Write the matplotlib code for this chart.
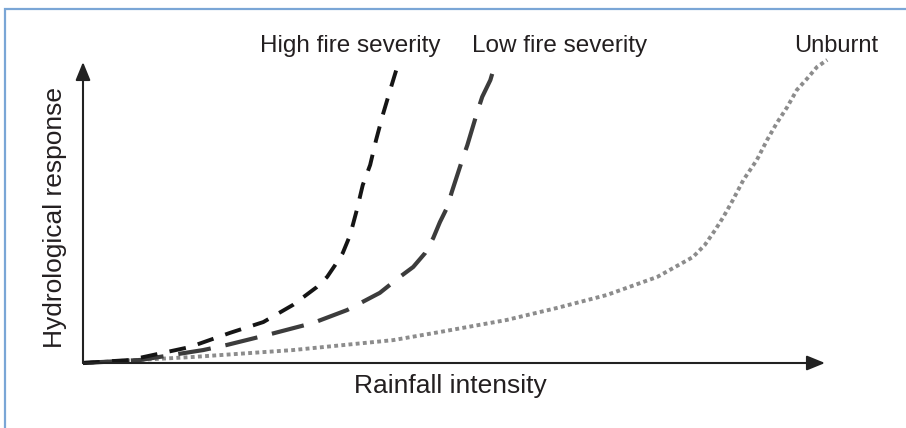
import numpy as np
import matplotlib.pyplot as plt
from matplotlib.patches import Rectangle

plt.rc('font', family=['Liberation Sans', 'DejaVu Sans'])

# curves (rainfall intensity, hydrological response)
high_x = [0, 0.63, 1.44, 1.98, 2.43, 2.83, 3.15, 3.29, 3.40, 3.50, 3.60, 3.69, 3.77, 3.87, 3.95, 4.04, 4.14, 4.23]
high_y = [0, 0.10, 0.53, 1.00, 1.36, 1.93, 2.52, 2.86, 3.26, 3.65, 4.25, 5.08, 5.91, 6.58, 7.41, 8.24, 9.07, 9.80]
low_x = [0, 0.77, 1.62, 1.94, 2.48, 3.10, 3.56, 4.00, 4.27, 4.45, 4.61, 4.72, 4.81, 4.91, 4.97,
         5.11, 5.18, 5.31, 5.38, 5.49, 5.55]
low_y = [0, 0.10, 0.43, 0.60, 0.93, 1.33, 1.76, 2.33, 2.86, 3.19, 3.65, 4.15, 4.68, 5.18, 5.68,
         6.74, 7.24, 8.31, 8.84, 9.40, 9.90]
unb_x = [0, 1.48, 2.83, 4.18, 4.81, 5.71, 6.39, 7.06, 7.74, 8.22, 8.38, 8.52, 8.63, 8.76, 8.90,
         9.08, 9.22, 9.35, 9.49, 9.62, 9.76, 9.89, 10.03]
unb_y = [0, 0.20, 0.43, 0.76, 1.03, 1.43, 1.83, 2.26, 2.86, 3.52, 3.92, 4.42, 4.85, 5.42, 6.08,
         6.74, 7.41, 7.97, 8.50, 9.07, 9.45, 9.83, 10.07]

labels = ['High fire severity', 'Low fire severity', 'Unburnt']

W, H = 906, 428
fig = plt.figure(figsize=(W/100, H/100), dpi=100)

# light blue frame round the figure
fig.patches.append(Rectangle((5/W, -0.05), 1.0, (H-9)/H + 0.05, transform=fig.transFigure,
                             fill=False, edgecolor='#7aa6d6', linewidth=1.6))

ax = fig.add_axes([83/W, (H-363)/H, (825-83)/W, (363-62)/H])
ax.set_xlim(0, 10)
ax.set_ylim(0, 10)
ax.axis('off')

ax.plot(unb_x, unb_y, color='#8c8c8c', lw=2.8, dashes=(1.0, 0.85), dash_capstyle='butt', clip_on=False)
ax.plot(low_x, low_y, color='#3c3c3c', lw=3.0, dashes=(7.9, 3.6), clip_on=False)
ax.plot(high_x, high_y, color='#151515', lw=2.8, dashes=(4.3, 3.2), clip_on=False)

# axes with arrow heads
arrow = dict(arrowstyle='-|>,head_length=1.1,head_width=0.45', color='#222222', lw=1.5,
             shrinkA=0, shrinkB=0)
ax.annotate('', xy=(10, 0), xytext=(0, 0), arrowprops=arrow, annotation_clip=False)
ax.annotate('', xy=(0, 10), xytext=(0, 0), arrowprops=arrow, annotation_clip=False)

fig.text(450/W, 1 - 386/H, 'Rainfall intensity', ha='center', va='center', fontsize=19, color='#231f20')
fig.text(55/W, 1 - 218/H, 'Hydrological response', ha='center', va='center', rotation=90,
         fontsize=19, color='#231f20')

fig.text(350/W, 1 - 46/H, labels[0], ha='center', va='center', fontsize=17.5, color='#231f20')
fig.text(560/W, 1 - 46/H, labels[1], ha='center', va='center', fontsize=17.5, color='#231f20')
fig.text(836/W, 1 - 46/H, labels[2], ha='center', va='center', fontsize=17, color='#231f20')

plt.savefig('out.png', dpi=100)
